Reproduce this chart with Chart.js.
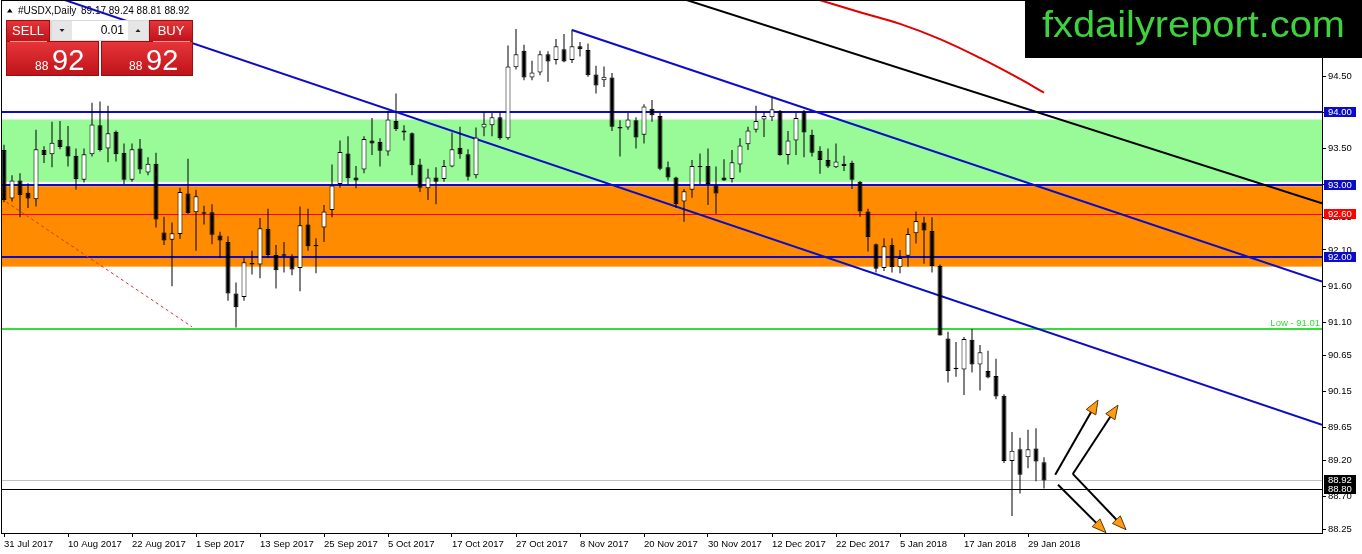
<!DOCTYPE html>
<html><head><meta charset="utf-8">
<script src="https://cdn.jsdelivr.net/npm/chart.js@4.4.1/dist/chart.umd.min.js"></script>
<style>html,body{margin:0;padding:0;background:#fff;overflow:hidden}#wrap{width:1362px;height:554px;position:relative}</style>
</head><body><div id="wrap"><canvas id="c" width="1362" height="554"></canvas></div>
<script>
const symbolName = '#USDX,Daily';
const dateLabels = ['31 Jul 2017','10 Aug 2017','22 Aug 2017','1 Sep 2017','13 Sep 2017','25 Sep 2017','5 Oct 2017','17 Oct 2017','27 Oct 2017','8 Nov 2017','20 Nov 2017','30 Nov 2017','12 Dec 2017','22 Dec 2017','5 Jan 2018','17 Jan 2018','29 Jan 2018'];
const dateLabelBars = [0,8,16,24,32,40,48,56,64,72,80,88,96,104,112,120,128];
const opens = [93.48,92.81,93.06,92.89,92.80,93.48,93.42,93.62,93.53,93.40,93.07,93.42,93.82,93.50,93.73,93.44,93.07,93.50,93.17,93.29,
92.34,92.24,92.32,92.88,92.62,92.62,92.62,92.30,92.21,91.50,91.45,91.92,91.90,92.39,92.03,92.04,92.00,91.85,92.45,92.17,
92.41,92.65,93.01,93.43,93.10,93.21,93.61,93.59,93.46,93.88,93.75,93.71,93.28,92.95,93.10,93.08,93.25,93.51,93.42,93.13,
93.79,93.82,93.93,93.64,94.62,94.85,94.48,94.55,94.80,94.72,94.87,94.72,94.91,94.86,94.52,94.44,94.48,93.79,93.79,93.89,
93.69,94.05,93.95,93.24,93.10,92.77,92.93,93.24,93.26,92.99,93.10,93.08,93.28,93.56,93.76,93.90,93.93,94.02,93.41,93.61,
94.01,93.69,93.47,93.34,93.24,93.29,93.30,93.04,92.63,92.18,91.85,92.17,91.86,92.02,92.33,92.48,92.36,91.88,90.88,90.47,
90.45,90.86,90.52,90.43,90.36,90.09,89.19,89.35,89.24,89.36,89.17];
const highs = [93.55,93.13,93.16,93.02,93.76,93.53,93.87,93.88,93.81,93.50,93.50,94.13,94.15,94.09,93.75,93.57,93.57,93.63,93.38,93.44,
92.56,92.48,92.96,93.36,92.93,92.71,92.73,92.35,92.29,91.65,91.99,92.09,92.54,92.67,92.17,92.21,92.04,92.70,92.67,92.26,
92.72,93.28,93.61,93.67,93.26,93.67,93.92,93.64,94.02,94.26,93.82,93.72,93.36,93.22,93.24,93.34,93.72,93.80,93.49,93.79,
94.00,93.99,94.00,94.92,95.15,94.93,94.71,94.85,94.84,95.01,95.08,95.14,94.97,94.95,94.64,94.63,94.54,93.89,93.99,93.93,
94.11,94.17,93.99,93.32,93.11,92.94,93.34,93.43,93.50,93.25,93.35,93.48,93.64,93.80,94.09,94.00,94.20,94.03,93.74,93.99,
94.03,93.76,93.53,93.50,93.57,93.40,93.33,93.05,92.67,92.19,92.26,92.26,92.10,92.40,92.63,92.56,92.55,91.90,90.97,90.83,
90.90,91.01,90.79,90.71,90.60,90.11,89.59,89.51,89.62,89.64,89.24];
const lows = [92.76,92.77,92.55,92.68,92.70,93.30,93.24,93.49,93.25,92.93,93.03,93.39,93.46,93.31,93.32,93.01,93.04,93.15,93.13,92.41,
92.17,91.60,92.25,92.60,92.09,92.45,92.18,91.99,91.40,91.03,91.40,91.76,91.71,91.99,91.57,91.79,91.75,91.53,92.09,91.78,
92.21,92.55,92.96,93.00,92.95,93.16,93.41,93.25,93.40,93.74,93.61,93.13,92.90,92.79,92.73,93.04,93.24,93.36,93.06,93.09,
93.67,93.67,93.62,93.62,94.59,94.44,94.44,94.51,94.42,94.66,94.69,94.68,94.77,94.49,94.26,94.35,93.74,93.39,93.76,93.50,
93.57,93.87,93.20,93.06,92.68,92.49,92.82,93.01,92.72,92.60,93.05,93.03,93.17,93.48,93.72,93.66,93.88,93.40,93.28,93.41,
93.38,93.39,93.15,93.23,93.23,93.19,92.94,92.56,92.08,91.79,91.81,91.79,91.78,91.87,92.19,91.91,91.79,90.92,90.27,90.35,
90.10,90.41,90.16,90.33,90.04,89.16,88.43,88.74,89.09,88.91,88.81];
const closes = [92.79,93.06,92.86,92.81,93.49,93.41,93.58,93.52,93.39,93.08,93.42,93.83,93.48,93.71,93.42,93.07,93.49,93.21,93.29,92.52,
92.23,92.33,92.90,92.61,92.84,92.60,92.31,92.23,91.50,91.31,91.93,91.90,92.40,92.03,91.82,92.02,91.83,92.44,92.15,92.15,
92.63,92.99,93.45,93.09,93.06,93.63,93.57,93.47,93.90,93.77,93.72,93.27,92.96,93.10,93.04,93.26,93.49,93.42,93.11,93.65,
93.84,93.93,93.64,94.63,94.80,94.48,94.55,94.80,94.70,94.91,94.70,94.91,94.87,94.51,94.37,94.49,93.80,93.78,93.90,93.65,
94.08,93.96,93.22,93.10,92.73,92.91,93.26,93.26,93.01,92.88,93.06,93.31,93.54,93.75,93.88,93.95,94.04,93.41,93.61,93.92,
93.72,93.44,93.34,93.25,93.32,93.26,93.07,92.63,92.28,91.84,92.15,91.86,91.99,92.32,92.50,92.37,91.88,90.92,90.43,90.46,
90.87,90.52,90.69,90.34,90.08,89.19,89.33,89.00,89.35,89.18,88.92];
const yTickValues = [94.50,94.00,93.50,93.00,92.55,92.10,91.60,91.10,90.65,90.15,89.65,89.20,88.70,88.25];
const greenZone = [93.90, 93.04];
const orangeZone = [92.98, 91.87];
const blueLevels = [94.00, 93.00, 92.00];
const redLevel = 92.60;
const lowLevel = 91.01;
const bidLevel = 88.92;
const lineLevel = 88.80;
const trendA = [[5, 95.645], [164.75, 89.688]];
const trendB = [[71, 95.135], [164.75, 91.663]];
const trendC = [[84, 95.595], [164.75, 92.744]];
const dashedTrend = [[0.3, 92.76], [23.5, 91.04]];
const maBars = [101, 107, 112, 117, 122, 127, 130];
const maValues = [95.58, 95.38, 95.22, 95.01, 94.75, 94.46, 94.27];
const arrows = [[131.4, 89.00, 136.75, 90.03], [133.6, 89.01, 139.25, 89.96], [131.75, 88.86, 137.75, 88.20], [133.6, 89.01, 140.25, 88.24]];
const logoText = 'fxdailyreport.com';

const AX_FONT = '9.5px "Liberation Sans", Arial, sans-serif';
const BLUE = '#0c0cc8';

const bodies = opens.map((o, i) => {
  let lo = Math.min(o, closes[i]), hi = Math.max(o, closes[i]);
  if (hi - lo < 0.02) { const m = (hi + lo) / 2; lo = m - 0.01; hi = m + 0.01; }
  return {x: i, y: [lo, hi]};
});
const wicks = highs.map((h, i) => ({x: i, y: [lows[i], h]}));
const toPts = arr => arr.map(p => ({x: p[0], y: p[1]}));

const overlay = {
  id: 'overlay',
  beforeDatasetsDraw(chart) {
    const ctx = chart.ctx, ca = chart.chartArea, ys = chart.scales.y;
    const Y = v => ys.getPixelForValue(v);
    ctx.save();
    ctx.beginPath(); ctx.rect(ca.left, ca.top, ca.right - ca.left, ca.bottom - ca.top); ctx.clip();
    ctx.fillStyle = '#98fb98';
    ctx.fillRect(ca.left, Y(greenZone[0]), ca.right - ca.left, Y(greenZone[1]) - Y(greenZone[0]));
    ctx.fillStyle = '#ff8c00';
    ctx.fillRect(ca.left, Y(orangeZone[0]), ca.right - ca.left, Y(orangeZone[1]) - Y(orangeZone[0]));
    const hline = (v, color, w) => {
      const y = Math.round(Y(v)) + (w % 2 ? 0.5 : 0);
      ctx.strokeStyle = color; ctx.lineWidth = w;
      ctx.beginPath(); ctx.moveTo(ca.left, y); ctx.lineTo(ca.right, y); ctx.stroke();
    };
    hline(redLevel, '#ff0000', 1);
    blueLevels.forEach(v => hline(v, BLUE, 2));
    hline(lowLevel, '#33dd33', 2);
    hline(bidLevel, '#c0c0c0', 1);
    hline(lineLevel, '#000000', 1);
    // header
    ctx.fillStyle = '#000';
    ctx.beginPath(); ctx.moveTo(7, 12.5); ctx.lineTo(12.5, 12.5); ctx.lineTo(9.75, 8.5); ctx.closePath(); ctx.fill();
    ctx.font = '10px "Liberation Sans", Arial, sans-serif';
    ctx.textBaseline = 'alphabetic'; ctx.textAlign = 'left';
    const n = closes.length - 1;
    ctx.fillText(symbolName, 18, 14);
    ctx.fillText([opens[n], highs[n], lows[n], closes[n]].map(v => v.toFixed(2)).join(' '), 81, 14);
    ctx.restore();
  },
  afterDatasetsDraw(chart) {
    const ctx = chart.ctx, xs = chart.scales.x, ys = chart.scales.y;
    const X = i => xs.getPixelForValue(i), Y = v => ys.getPixelForValue(v);
    ctx.save();
    arrows.forEach(a => {
      const x0 = X(a[0]), y0 = Y(a[1]), x1 = X(a[2]), y1 = Y(a[3]);
      const ang = Math.atan2(y1 - y0, x1 - x0), hl = 14, hw = 5.5;
      const bx = x1 - hl * Math.cos(ang), by = y1 - hl * Math.sin(ang);
      ctx.strokeStyle = '#000'; ctx.lineWidth = 2;
      ctx.beginPath(); ctx.moveTo(x0, y0); ctx.lineTo(bx + 3 * Math.cos(ang), by + 3 * Math.sin(ang)); ctx.stroke();
      ctx.beginPath();
      ctx.moveTo(x1, y1);
      ctx.lineTo(bx + hw * Math.sin(ang), by - hw * Math.cos(ang));
      ctx.lineTo(bx - hw * Math.sin(ang), by + hw * Math.cos(ang));
      ctx.closePath();
      ctx.fillStyle = '#ff9a12'; ctx.fill();
      ctx.strokeStyle = '#5a3a00'; ctx.lineWidth = 1; ctx.stroke();
    });
    ctx.restore();
  },
  afterDraw(chart) {
    const ctx = chart.ctx, ca = chart.chartArea, ys = chart.scales.y;
    const Y = v => ys.getPixelForValue(v);
    ctx.save();
    ctx.strokeStyle = '#000'; ctx.lineWidth = 1;
    ctx.strokeRect(ca.left - 0.5, ca.top - 0.5, ca.right - ca.left + 1, ca.bottom - ca.top + 1);
    const box = (v, bg) => {
      const y = Math.round(Y(v));
      ctx.fillStyle = bg; ctx.fillRect(ca.right + 2, y - 5, 32, 10);
      ctx.fillStyle = '#fff'; ctx.font = AX_FONT; ctx.textBaseline = 'middle'; ctx.textAlign = 'left';
      ctx.fillText(v.toFixed(2), ca.right + 6, y + 0.5);
    };
    blueLevels.forEach(v => box(v, BLUE));
    box(redLevel, '#ff0000');
    box(bidLevel, '#000');
    box(lineLevel, '#000');
    ctx.fillStyle = '#33dd33'; ctx.font = AX_FONT; ctx.textAlign = 'right'; ctx.textBaseline = 'alphabetic';
    ctx.fillText('Low - ' + lowLevel.toFixed(2), ca.right - 2, Y(lowLevel) - 3);
    // trade panel
    const n = closes.length - 1;
    const cs = closes[n].toFixed(2).split('.');
    const big = cs[1], small = cs[0].slice(-2);
    const redFill = (x, y, w, h) => {
      const g = ctx.createLinearGradient(0, y, 0, y + h);
      g.addColorStop(0, '#e8363a'); g.addColorStop(1, '#bd1218');
      ctx.fillStyle = g; ctx.fillRect(x, y, w, h);
      ctx.strokeStyle = '#9a0c10'; ctx.lineWidth = 1; ctx.strokeRect(x + 0.5, y + 0.5, w - 1, h - 1);
    };
    redFill(6, 20, 44, 22);
    redFill(149, 20, 44, 22);
    redFill(6, 41, 93, 35);
    redFill(101, 41, 92, 35);
    ctx.strokeStyle = 'rgba(255,190,190,0.8)';
    ctx.beginPath(); ctx.moveTo(10, 41.5); ctx.lineTo(47, 41.5); ctx.moveTo(153, 41.5); ctx.lineTo(190, 41.5); ctx.stroke();
    ctx.fillStyle = '#d8d8d8'; ctx.fillRect(50, 20, 99, 21);
    ctx.fillStyle = '#e6e6e6'; ctx.fillRect(52, 21, 20, 19); ctx.fillRect(128, 21, 20, 19);
    ctx.fillStyle = '#fff'; ctx.fillRect(72, 21, 56, 19);
    ctx.fillStyle = '#222';
    ctx.beginPath(); ctx.moveTo(59.5, 29); ctx.lineTo(64.5, 29); ctx.lineTo(62, 32); ctx.closePath(); ctx.fill();
    ctx.beginPath(); ctx.moveTo(135.5, 32); ctx.lineTo(140.5, 32); ctx.lineTo(138, 29); ctx.closePath(); ctx.fill();
    ctx.font = '12px "Liberation Sans", Arial, sans-serif'; ctx.textAlign = 'right'; ctx.textBaseline = 'middle';
    ctx.fillStyle = '#000'; ctx.fillText('0.01', 124, 31);
    ctx.fillStyle = '#fff'; ctx.textAlign = 'center';
    ctx.font = '13px "Liberation Sans Narrow", "Liberation Sans", Arial, sans-serif';
    ctx.fillText('SELL', 28, 31); ctx.fillText('BUY', 171, 31);
    ctx.textBaseline = 'alphabetic'; ctx.textAlign = 'left';
    ctx.font = '12px "Liberation Sans", Arial, sans-serif';
    ctx.fillText(small, 35, 70); ctx.fillText(small, 129, 70);
    ctx.font = '29px "Liberation Sans", Arial, sans-serif';
    ctx.fillText(big, 52, 70); ctx.fillText(big, 146, 70);
    // logo
    ctx.fillStyle = '#000'; ctx.fillRect(1025, 0, 337, 58);
    ctx.font = '37px "Liberation Sans", Arial, sans-serif';
    const w = ctx.measureText(logoText).width;
    ctx.translate(1042, 37); ctx.scale(303 / w, 1);
    ctx.fillStyle = '#3ed23e'; ctx.textAlign = 'left'; ctx.textBaseline = 'alphabetic';
    ctx.fillText(logoText, 0, 0);
    ctx.restore();
  }
};

const lineDs = (pts, color, width, extra) => Object.assign({
  type: 'line', data: toPts(pts), borderColor: color, borderWidth: width, pointRadius: 0,
  fill: false, order: 5, tension: 0
}, extra || {});

new Chart(document.getElementById('c'), {
  type: 'bar',
  data: {
    datasets: [
      {label: 'bodies', data: bodies, order: 0, grouped: false, barThickness: 5,
        backgroundColor: c => closes[c.dataIndex] >= opens[c.dataIndex] ? '#ffffff' : '#000000',
        borderColor: '#000', borderWidth: 1, borderSkipped: false, inflateAmount: 0},
      {label: 'wicks', data: wicks, order: 1, grouped: false, barThickness: 1,
        backgroundColor: '#000', borderWidth: 0, inflateAmount: 0},
      lineDs(trendA, BLUE, 2),
      lineDs(trendB, BLUE, 2),
      lineDs(trendC, '#000', 2),
      lineDs(dashedTrend, '#d83030', 1, {borderDash: [3, 3]}),
      lineDs(maBars.map((b, k) => [b, maValues[k]]), '#e00000', 2, {tension: 0.4})
    ]
  },
  options: {
    responsive: false, animation: false, events: [],
    layout: {padding: {left: 2, top: 1, right: 0, bottom: 0}},
    plugins: {legend: {display: false}, tooltip: {enabled: false}},
    scales: {
      x: {
        type: 'linear', min: -0.25, max: 164.75, offset: false,
        grid: {drawOnChartArea: false, tickLength: 4, color: '#000', offset: false},
        border: {display: true, color: '#000'},
        afterBuildTicks: s => { s.ticks = dateLabelBars.map(v => ({value: v})); },
        afterFit: s => { s.height = 21; s.paddingLeft = 0; s.paddingRight = 0; },
        ticks: {autoSkip: false, maxRotation: 0, minRotation: 0, align: 'start', padding: 2,
          color: '#000', font: {family: '"Liberation Sans", Arial, sans-serif', size: 9.5},
          callback: v => dateLabels[dateLabelBars.indexOf(v)]}
      },
      y: {
        type: 'linear', position: 'right', min: 88.195, max: 95.535,
        grid: {drawOnChartArea: false, tickLength: 4, color: '#000'},
        border: {display: true, color: '#000'},
        afterBuildTicks: s => { s.ticks = yTickValues.map(v => ({value: v})); },
        afterFit: s => { s.width = 40; s.paddingTop = 0; s.paddingBottom = 0; },
        ticks: {padding: 2, color: '#000', font: {family: '"Liberation Sans", Arial, sans-serif', size: 9.5},
          callback: v => Number(v).toFixed(2)}
      }
    }
  },
  plugins: [overlay]
});
</script></body></html>
